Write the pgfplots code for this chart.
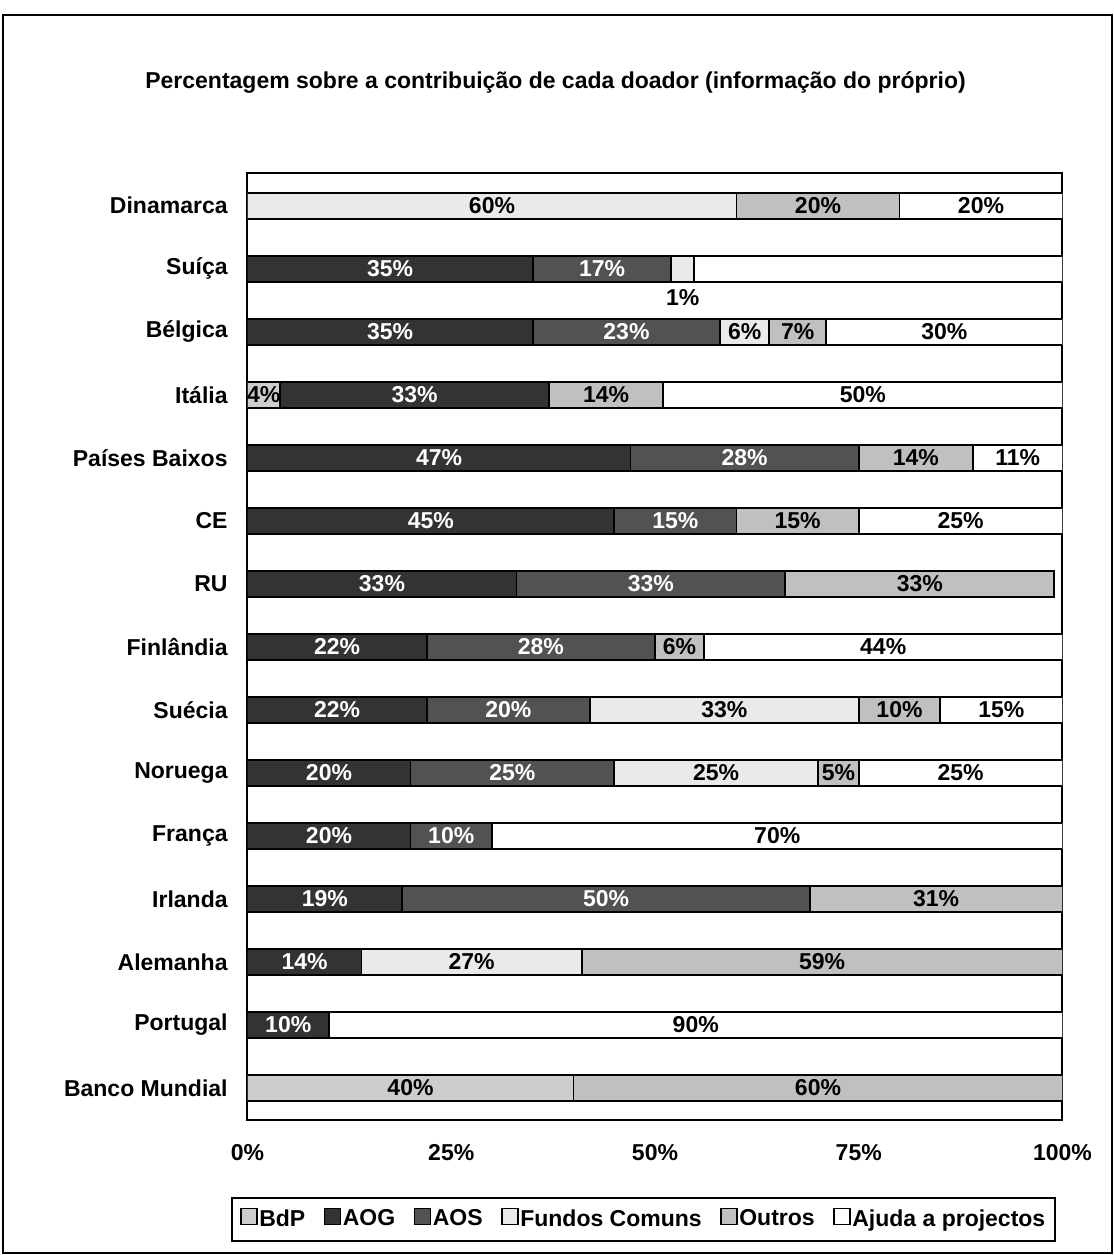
\documentclass[border=0pt]{standalone}
\usepackage{fontspec}
\setmainfont{Liberation Sans}
\usepackage{pgfplots}
\usepackage{pgfplotstable}
\pgfplotsset{compat=1.18}

\definecolor{cBdP}{HTML}{CDCDCD}
\definecolor{cAOG}{HTML}{333333}
\definecolor{cAOS}{HTML}{525252}
\definecolor{cFC}{HTML}{EAEAEA}
\definecolor{cOut}{HTML}{C0C0C0}
\definecolor{cAj}{HTML}{FFFFFF}

\newcommand{\ff}{\fontsize{11.5}{13.8}\selectfont\bfseries}

% rows: 0 = Banco Mundial ... 14 = Dinamarca; l* = printed label, dFC = label shift
\pgfplotstableread{
idx BdP AOG AOS FC  Out Aj   lBdP lAOG lAOS lFC lOut lAj dFC
0   40  0   0   0   60  0    40   0    0    0   60   0   0
1   0   10  0   0   0   90   0    10   0    0   0    90  0
2   0   14  0   27  59  0    0    14   0    27  59   0   0
3   0   19  50  0   31  0    0    19   50   0   31   0   0
4   0   20  10  0   0   70   0    20   10   0   0    70  0
5   0   20  25  25  5   25   0    20   25   25  5    25  0
6   0   22  20  33  10  15   0    22   20   33  10   15  0
7   0   22  28  0   6   44   0    22   28   0   6    44  0
8   0   33  33  0   33  0    0    33   33   0   33   0   0
9   0   45  15  0   15  25   0    45   15   0   15   25  0
10  0   47  28  0   14  11   0    47   28   0   14   11  0
11  4   33  0   0   14  49   4    33   0    0   14   50  0
12  0   35  23  6   7   29   0    35   23   6   7    30  0
13  0   35  17  2.8 0   45.3 0    35   17   1   0    47  -14.5
14  0   0   0   60  20  20   0    0    0    60  20   20  0
}\data

\pgfplotsset{
  seg/.style n args={3}{
    fill=#2, draw=black, line width=0.9pt,
    point meta=explicit symbolic,
    nodes near coords={\ifdim\pgfplotspointmeta pt>0pt \pgfplotspointmeta\%\fi},
    nodes near coords style={anchor=center, text=#3, font=\ff, inner sep=0pt},
  },
}

\begin{document}
\begin{tikzpicture}
\useasboundingbox (-123.75pt,-67.5pt) rectangle (433.25pt,560pt);
\begin{axis}[
  at={(0pt,0pt)}, anchor=south west,
  scale only axis,
  width=407.5pt, height=473.5pt,
  xbar stacked,
  bar width=13pt,
  xmin=0, xmax=100,
  ymin=-0.51, ymax=14.52,
  xtick={0,25,50,75,100},
  xticklabels={0\%,25\%,50\%,75\%,100\%},
  ytick={0,...,14},
  yticklabels={Banco Mundial,Portugal,Alemanha,Irlanda,França,Noruega,Suécia,Finlândia,RU,CE,Países Baixos,Itália,Bélgica,Suíça,Dinamarca},
  major tick length=0pt,
  tick label style={font=\ff},
  yticklabel style={anchor=east, inner sep=0pt, xshift=-9.75pt},
  xticklabel style={anchor=center, inner sep=0pt, yshift=-16.5pt},
  axis line style={line width=1pt},
  title={Percentagem sobre a contribuição de cada doador (informação do próprio)},
  title style={at={(0.378,1)}, anchor=center, yshift=39pt, font=\ff},
  legend image code/.code={\draw[#1, line width=0.7pt] (0pt,-2.6pt) rectangle (8pt,5.4pt);},
  legend style={at={(0.486,-0.105)}, anchor=center, legend columns=-1,
    draw=black, line width=1pt, font=\ff, inner xsep=4pt, inner ysep=4pt,
    nodes={inner xsep=0.8pt, inner ysep=2pt},
    /tikz/every even column/.append style={column sep=8.5pt}},
  legend cell align=left,
]
\addplot[seg={BdP}{cBdP}{black}] table[y=idx, x=BdP, meta=lBdP] {\data};
\addplot[seg={AOG}{cAOG}{white}] table[y=idx, x=AOG, meta=lAOG] {\data};
\addplot[seg={AOS}{cAOS}{white}] table[y=idx, x=AOS, meta=lAOS] {\data};
\addplot[seg={FC}{cFC}{black},
  visualization depends on={\thisrow{dFC} \as \dy},
  nodes near coords style={yshift=\dy pt}] table[y=idx, x=FC, meta=lFC] {\data};
\addplot[seg={Out}{cOut}{black}] table[y=idx, x=Out, meta=lOut] {\data};
\addplot[seg={Aj}{cAj}{black}] table[y=idx, x=Aj, meta=lAj] {\data};
\legend{BdP,AOG,AOS,Fundos Comuns,Outros,Ajuda a projectos}
\end{axis}
\draw[line width=1pt] (-122.25pt,-66.5pt) rectangle (432.25pt,552.5pt);
\end{tikzpicture}
\end{document}
